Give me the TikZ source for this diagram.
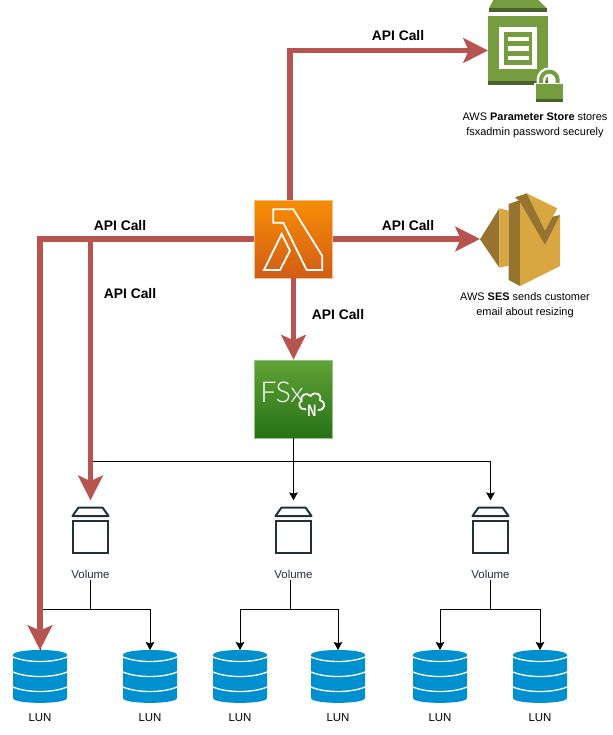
\documentclass[tikz,border=0pt]{standalone}
\usepackage{fontspec}
\setmainfont{Liberation Sans}
\newfontfamily\fsxfont{Lato Light}
\usetikzlibrary{arrows.meta,calc}
\definecolor{redline}{HTML}{B85450}
\definecolor{ink}{HTML}{232F3E}
\definecolor{lunblue}{HTML}{0090D0}
\definecolor{pgreen}{HTML}{759C3E}
\definecolor{pdark}{HTML}{4B612C}
\definecolor{sgold}{HTML}{D9A741}
\definecolor{sdark}{HTML}{967430}
\definecolor{lamtop}{HTML}{F78E04}
\definecolor{lambot}{HTML}{D05C17}
\definecolor{lamedge}{HTML}{F5BE8C}
\definecolor{fsxtop}{HTML}{60A337}
\definecolor{fsxbot}{HTML}{277116}
\definecolor{fsxedge}{HTML}{96C387}
\tikzset{
  redarrow/.style={draw=redline,line width=3.9pt,-{Stealth[length=18.5pt,width=18.5pt,inset=4pt]}},
  blackarrow/.style={draw=black,line width=0.75pt,-{Stealth[length=6pt,width=6.5pt,inset=1pt]}},
  blackline/.style={draw=black,line width=0.75pt},
  apilabel/.style={font=\fontsize{10.4pt}{12pt}\selectfont\bfseries,inner sep=0pt},
  captiontext/.style={font=\fontsize{8.2pt}{11.2pt}\selectfont,align=center,inner sep=0pt},
  lunlabel/.style={font=\fontsize{8.6pt}{10pt}\selectfont,inner sep=0pt},
  vollabel/.style={font=\fontsize{8.6pt}{10pt}\selectfont,text=ink,inner sep=1pt},
  lambdabox/.style={minimum size=58.5pt,inner sep=0pt,top color=lamtop,bottom color=lambot,draw=lamedge,line width=0.6pt},
  fsxbox/.style={minimum size=58.5pt,inner sep=0pt,top color=fsxtop,bottom color=fsxbot,draw=fsxedge,line width=0.6pt},
  ghost/.style={inner sep=0pt,outer sep=0pt},
  glyph/.style={draw=white,line width=1.35pt,line join=miter},
}
\newcommand{\lunicon}[2]{%
  \node[ghost,minimum width=40.5pt,minimum height=39.75pt] (#1) at (#2,676.5) {};
  \fill[lunblue] (#2-27,655) .. controls (#2-27,648.3) and (#2+27,648.3) .. (#2+27,655)
    -- (#2+27,698) .. controls (#2+27,704.5) and (#2-27,704.5) .. (#2-27,698) -- cycle;
  \foreach \yy in {657,672,687}{
    \draw[white,line width=1pt] (#2-27,\yy) .. controls (#2-13,\yy+6) and (#2+13,\yy+6) .. (#2+27,\yy);
  }
}
\newcommand{\volicon}[2]{%
  \node[ghost,minimum width=27.75pt,minimum height=34.5pt] (#1) at (#2,530) {};
  \draw[ink,line width=1.5pt,line join=round] (#2-18,516) -- (#2-12,507.5) -- (#2+12,507.5) -- (#2+18,516) -- cycle;
  \draw[ink,line width=1.5pt] (#2-17.5,520.5) rectangle (#2+17.5,553);
}
\begin{document}
\begin{tikzpicture}[x=0.75pt,y=-0.75pt]
\useasboundingbox (0,0) rectangle (612,735);

% service nodes
\node[lambdabox] (lambda) at (293.5,239) {};
\node[fsxbox] (fsx) at (293.5,399) {};
\node[ghost,minimum width=45pt,minimum height=51pt] (param) at (518,50.5) {};
\node[ghost,minimum width=60pt,minimum height=64pt] (ses) at (520,239) {};

% lambda glyph
\begin{scope}[shift={(240,190)},x=0.25pt,y=-0.25pt]
\draw[glyph] (100,58) -- (160,58) -- (247,198) -- (247,240) -- (200,240) -- (130,98) -- (100,98) -- cycle;
\draw[glyph] (125,132) -- (150,182) -- (120,240) -- (72,240) -- cycle;
\end{scope}

% FSx glyph
\node[ghost,text=white,font=\fsxfont\fontsize{21.5pt}{21.5pt}\selectfont] (fsxtext) at (282,392.5) {FSx};
\begin{scope}[shift={(240,350)},x=0.25pt,y=-0.25pt]
\draw[white,line width=1.3pt,line cap=round] (197,178) .. controls (178,180) and (172,160) .. (184,152)
  .. controls (180,135) and (200,125) .. (212,138) .. controls (225,120) and (248,135) .. (240,150)
  .. controls (258,155) and (258,180) .. (235,180);
\end{scope}
\node[ghost,text=white,font=\fontsize{12.5pt}{12.5pt}\selectfont\bfseries] (fsxn) at (312,411) {\scalebox{0.75}[1]{N}};

% parameter store icon
\begin{scope}[shift={(430,0)},x=0.25pt,y=-0.25pt]
\fill[pgreen] (190,0) -- (325,0) -- (350,25) -- (177,25) -- cycle;
\fill[pdark] (177,25) rectangle (350,36);
\fill[pgreen] (173,48) rectangle (355,243);
\fill[pdark] (173,243) rectangle (355,255);
\fill[white] (208,82) rectangle (320,208);
\fill[pgreen] (221,95) rectangle (307,195);
\fill[white] (233,110) rectangle (297,124);
\fill[white] (233,138) rectangle (297,152);
\fill[white] (233,167) rectangle (297,181);
\draw[white,line width=6.5pt] (333,258) -- (333,240) arc[start angle=180,end angle=360,x radius=25,y radius=25] -- (383,258);
\draw[pgreen,line width=3pt] (333,258) -- (333,240) arc[start angle=180,end angle=360,x radius=25,y radius=25] -- (383,258);
\fill[white] (312,248) rectangle (404,258);
\fill[pgreen] (317,252) rectangle (399,298);
\fill[pdark] (317,298) rectangle (399,306);
\end{scope}

% SES icon
\begin{scope}[shift={(430,180)},x=0.25pt,y=-0.25pt]
\fill[sdark] (150,178) -- (208,85) -- (208,263) -- cycle;
\fill[sgold] (208,85) -- (236,92) -- (236,257) -- (208,263) -- cycle;
\fill[sdark] (236,72) -- (270,60) -- (270,318) -- (236,300) -- cycle;
\fill[sgold] (270,60) -- (345,195) -- (390,105) -- (390,258) -- (270,318) -- cycle;
\fill[sgold] (290,40) -- (382,85) -- (345,152) -- cycle;
\fill[sdark] (255,52) -- (290,40) -- (345,152) -- (368,110) -- (390,105) -- (345,195) -- (270,65) -- cycle;
\end{scope}

% volumes
\volicon{vola}{90.5}
\volicon{volb}{293.5}
\volicon{volc}{490.5}
\node[vollabel] (vola text) at (90.5,574) {Volume};
\node[vollabel] (volb text) at (293.5,574) {Volume};
\node[vollabel] (volc text) at (490.5,574) {Volume};

% LUNs
\lunicon{luna}{40}
\lunicon{lunb}{150}
\lunicon{lunc}{240}
\lunicon{lund}{338}
\lunicon{lune}{440}
\lunicon{lunf}{540}
\node[lunlabel] (luna text) at (40,718) {LUN};
\node[lunlabel] (lunb text) at (150,718) {LUN};
\node[lunlabel] (lunc text) at (240,718) {LUN};
\node[lunlabel] (lund text) at (338,718) {LUN};
\node[lunlabel] (lune text) at (440,718) {LUN};
\node[lunlabel] (lunf text) at (540,718) {LUN};

% text
\node[apilabel] (api top) at (398,35.5) {API Call};
\node[apilabel] (api right) at (408,225.5) {API Call};
\node[apilabel] (api down) at (338,315) {API Call};
\node[apilabel] (api left) at (120,225.5) {API Call};
\node[apilabel] (api vol) at (130,293.5) {API Call};
\node[captiontext] (param text) at (535,125.5) {AWS \textbf{Parameter Store} stores\\fsxadmin password securely};
\node[captiontext] (ses text) at (525,305.5) {AWS \textbf{SES} sends customer\\email about resizing};

% black connectors
\coordinate (bus) at (fsx.south |- 0,461);
\draw[blackarrow,shorten >=5pt] (fsx.south) -- (volb.north);
\draw[blackarrow,shorten >=5pt] (bus) -| (volc.north);
\draw[blackline] (bus) -- (bus -| vola.north);
\draw[blackarrow] (vola text.south) -- ++(0,30) -| (lunb.north);
\draw[blackline] (vola text.south) ++(0,30) -| (luna.north);
\draw[blackarrow] ([xshift=-2.5pt]volb text.south) -- ++(0,30) -| (lunc.north);
\draw[blackarrow] ([xshift=-2.5pt]volb text.south) -- ++(0,30) -| (lund.north);
\draw[blackarrow] (volc text.south) -- ++(0,30) -| (lune.north);
\draw[blackarrow] (volc text.south) -- ++(0,30) -| (lunf.north);

% red connectors
\draw[redarrow] ([xshift=-2.6pt]lambda.north) |- (param.west);
\draw[redarrow] (lambda.east) -- (ses.west);
\draw[redarrow] (lambda.south) -- (fsx.north);
\draw[redarrow] (lambda.west) -| (luna.north);
\coordinate (tee) at (lambda.west -| vola.north);
\draw[redarrow,shorten >=5pt] (tee) -- (vola.north);
\end{tikzpicture}
\end{document}
